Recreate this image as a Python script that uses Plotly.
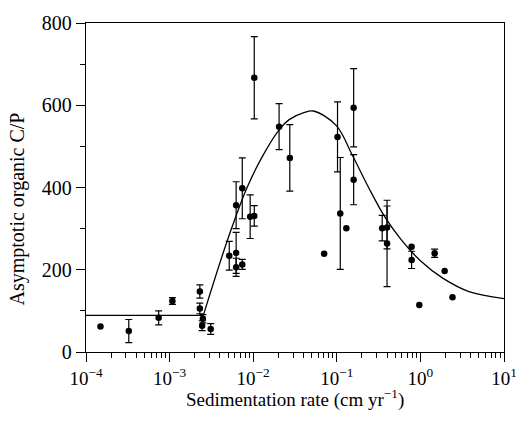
import plotly.graph_objects as go

# Points with error bars
rate_err = [3.25e-4, 7.4e-4, 1.08e-3, 2.3e-3, 2.3e-3, 2.5e-3, 2.45e-3, 3.1e-3,
            5.17e-3, 6.25e-3, 6.25e-3, 6.25e-3, 7.4e-3, 7.4e-3, 9.2e-3, 1.03e-2,
            1.03e-2, 2.04e-2, 2.74e-2, 0.102, 0.110, 0.159, 0.159, 0.349, 0.399,
            0.399, 0.785, 1.48]
cp_err = [51, 83, 124, 147, 106, 81, 64, 56,
          234, 357, 241, 206, 398, 213, 329, 331,
          667, 548, 472, 523, 337, 594, 419, 301, 303,
          264, 224, 240]
cp_sigma = [28, 17, 8, 16, 13, 10, 12, 13,
            35, 57, 50, 22, 74, 12, 53, 25,
            100, 56, 81, 85, 136, 95, 61, 31, 52,
            105, 21, 10]

# Points without error bars
rate_plain = [1.49e-4, 0.0706, 0.13, 0.785, 0.97, 1.95, 2.42]
cp_plain = [62, 239, 301, 256, 114, 197, 133]

# Fitted curve
fit_flat_x = [1e-4, 2.53e-3]
fit_flat_y = [89, 89]
fit_x = [2.53e-3, 4.52e-3, 6.18e-3, 8.45e-3, 1.26e-2, 2.02e-2, 2.69e-2, 4.03e-2,
         5.26e-2, 9.82e-2, 0.153, 0.240, 0.374, 0.585, 1.0, 1.87, 3.81, 10.0]
fit_y = [89, 250, 329, 400, 472, 539, 565, 582,
         586, 551, 479, 400, 329, 274, 222, 179, 147, 130]

x_major = [1e-4, 1e-3, 1e-2, 1e-1, 1e0, 1e1]
x_major_text = ["10<sup>−4</sup>", "10<sup>−3</sup>", "10<sup>−2</sup>",
                "10<sup>−1</sup>", "10<sup>0</sup>", "10<sup>1</sup>"]
x_minor = [m * d for d in [1e-4, 1e-3, 1e-2, 1e-1, 1e0] for m in range(2, 10)]

FONT = "Liberation Serif"

fig = go.Figure()
fig.add_trace(go.Scatter(x=fit_flat_x, y=fit_flat_y, mode="lines",
                         line=dict(color="black", width=1.3), showlegend=False))
fig.add_trace(go.Scatter(x=fit_x, y=fit_y, mode="lines",
                         line=dict(color="black", width=1.3, shape="spline", smoothing=1.0),
                         showlegend=False))
fig.add_trace(go.Scatter(x=rate_err, y=cp_err, mode="markers",
                         marker=dict(color="black", size=6.5),
                         error_y=dict(type="data", array=cp_sigma, visible=True,
                                      color="black", thickness=1.2, width=3.5),
                         showlegend=False))
fig.add_trace(go.Scatter(x=rate_plain, y=cp_plain, mode="markers",
                         marker=dict(color="black", size=6.5), showlegend=False))

fig.update_layout(
    width=529, height=425,
    margin=dict(l=86, r=13, t=15, b=73),
    paper_bgcolor="white", plot_bgcolor="white",
    font=dict(family=FONT, size=19, color="black"),
    xaxis=dict(type="log", range=[-4, 1], showgrid=False, zeroline=False,
               showline=True, linecolor="black", linewidth=1.3, mirror=True,
               ticks="outside", ticklen=9, tickwidth=1.2, tickcolor="black",
               tickmode="array", tickvals=x_major, ticktext=x_major_text,
               tickfont=dict(family=FONT, size=19),
               minor=dict(tickmode="array", tickvals=x_minor, ticks="outside",
                          ticklen=5, tickwidth=1, tickcolor="black", showgrid=False)),
    yaxis=dict(range=[0, 800], showgrid=False, zeroline=False,
               showline=True, linecolor="black", linewidth=1.3, mirror=True,
               ticks="outside", ticklen=9, tickwidth=1.2, tickcolor="black",
               tickmode="linear", tick0=0, dtick=200,
               tickfont=dict(family=FONT, size=20),
               minor=dict(tick0=0, dtick=100, ticks="outside", ticklen=5,
                          tickwidth=1, tickcolor="black", showgrid=False)),
    annotations=[
        dict(text="Sedimentation rate (cm yr<sup>−1</sup>)", xref="paper", yref="paper",
             x=0.5, y=0, yshift=-46, xanchor="center", yanchor="middle",
             showarrow=False, font=dict(family=FONT, size=19)),
        dict(text="Asymptotic organic C/P", xref="paper", yref="paper",
             x=0, y=0.5, xshift=-69, yshift=-22, xanchor="center", yanchor="middle",
             textangle=-90, showarrow=False, font=dict(family=FONT, size=20)),
    ],
)

fig.write_html("out.html")
